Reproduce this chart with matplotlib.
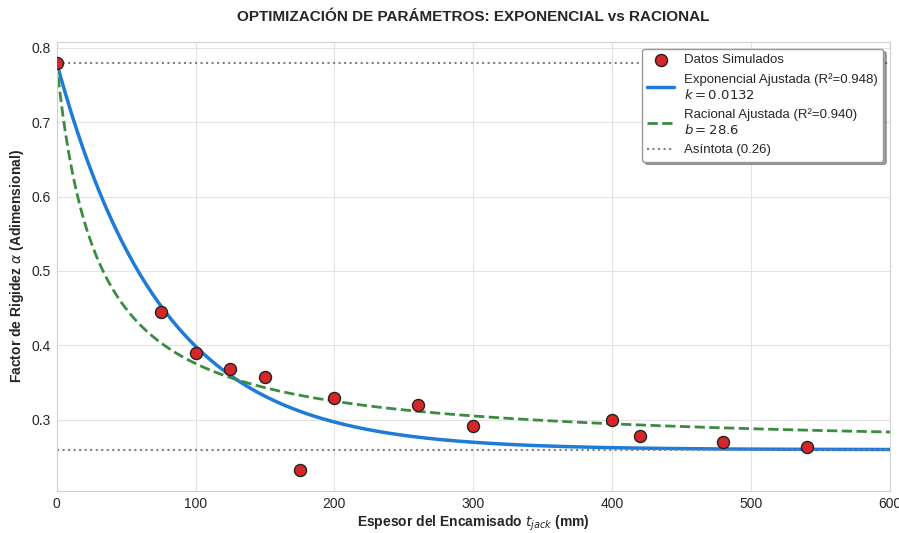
import numpy as np
import matplotlib.pyplot as plt
import seaborn as sns

sns.set_style('whitegrid')
plt.rcParams['font.family'] = ['Liberation Sans', 'DejaVu Sans']

# datos simulados
espesor = [0, 75, 100, 125, 150, 175, 200, 260, 300, 400, 420, 480, 540]
alpha = [0.78, 0.445, 0.39, 0.368, 0.358, 0.232, 0.33, 0.32, 0.292, 0.30, 0.278, 0.27, 0.263]

# parametros ajustados
alpha0 = 0.78
asintota = 0.26
k = 0.0132
b = 28.6

x = np.linspace(0, 600, 400)
y_exp = asintota + (alpha0 - asintota) * np.exp(-k * x)
y_rac = asintota + (alpha0 - asintota) * b / (b + x)

fig, ax = plt.subplots(figsize=(8.99, 5.33), dpi=100)
fig.subplots_adjust(left=0.063, right=0.99, top=0.921, bottom=0.079)

ax.scatter(espesor, alpha, s=75, color='#d62728', edgecolor='#222222', linewidth=1.0,
           zorder=5, label='Datos Simulados')
ax.plot(x, y_exp, color='#1f7bd8', lw=2.5,
        label='Exponencial Ajustada (R²=0.948)\n$k = 0.0132$')
ax.plot(x, y_rac, color='#3a8c3f', lw=2, ls='--',
        label='Racional Ajustada (R²=0.940)\n$b = 28.6$')
ax.axhline(asintota, color='gray', ls=':', lw=1.5, label='Asíntota (0.26)')
ax.axhline(alpha0, color='gray', ls=':', lw=1.5)

ax.set_xlim(0, 600)
ax.grid(color='#e3e3e3')
for s in ax.spines.values():
    s.set_color('#d0d0d0')
ax.set_title('OPTIMIZACIÓN DE PARÁMETROS: EXPONENCIAL vs RACIONAL',
             fontsize=11, fontweight='bold', pad=15)
ax.set_xlabel('Espesor del Encamisado $t_{jack}$ (mm)', fontsize=10, fontweight='bold',
              labelpad=2)
ax.set_ylabel(r'Factor de Rigidez $\alpha$ (Adimensional)', fontsize=10, fontweight='bold',
              labelpad=4)
ax.tick_params(labelsize=10, pad=1)
ax.legend(loc='upper right', frameon=True, shadow=True, fancybox=True, fontsize=9.5,
          edgecolor='#999999')

plt.savefig('out.png')
